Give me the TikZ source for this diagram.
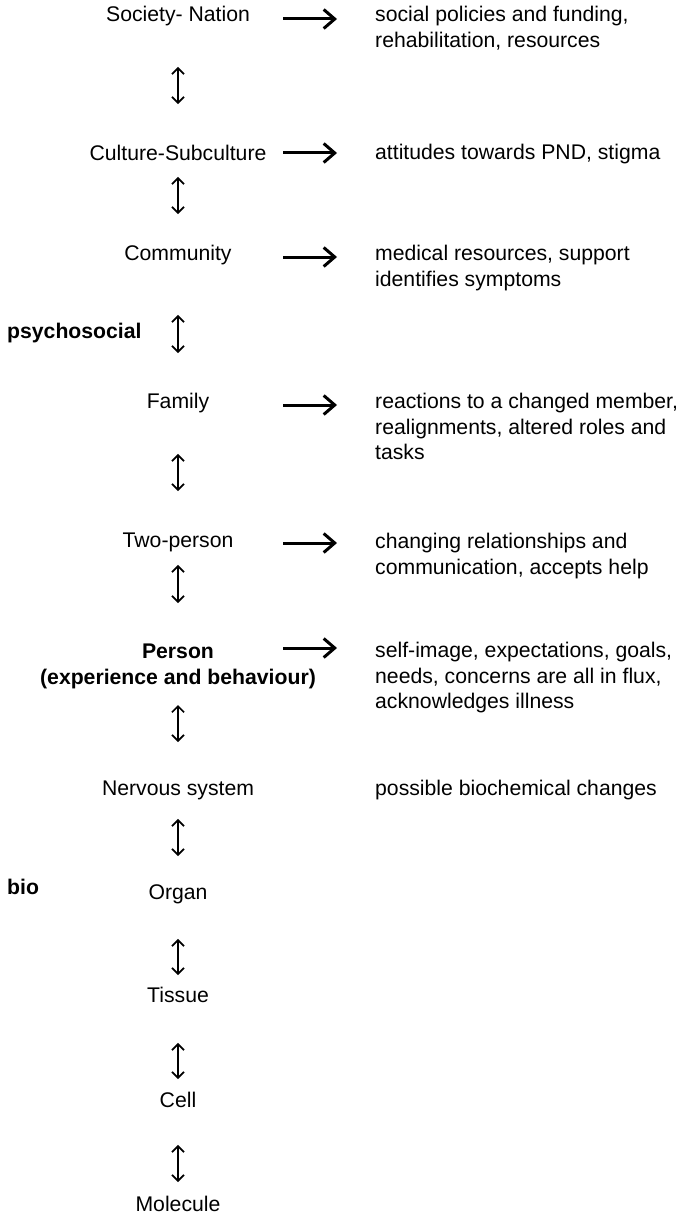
\documentclass[tikz,border=0pt]{standalone}
\usepackage{fontspec}
\setmainfont{Liberation Sans}
\usetikzlibrary{arrows.meta,calc}

\begin{document}
\begin{tikzpicture}[x=1pt,y=-1pt,
    lbl/.style={inner sep=0pt, text height=15pt, text depth=4.5pt},
    desc/.style={anchor=north west, inner sep=0pt, align=left},
    side/.style={anchor=west, inner sep=0pt, font=\bfseries},
    rarr/.style={line width=3pt, -{Straight Barb[length=11pt,width=19pt]}},
    updown/.style 2 args={line width=1.7pt,
      {Straight Barb[length=6pt,width=12pt]}-{Straight Barb[length=6pt,width=12pt]},
      shorten <=#1pt, shorten >=#2pt}]
  \fontsize{21.2}{25.7}\selectfont
  \useasboundingbox (0,0) rectangle (681,1217);

  % Levels
  \node[lbl] (soc) at (178,16) {Society- Nation};
  \node[lbl] (cul) at (178,155) {Culture-Subculture};
  \node[lbl] (com) at (178,255) {Community};
  \node[lbl] (fam) at (178,403) {Family};
  \node[lbl] (two) at (178,542) {Two-person};
  \node[anchor=north, inner sep=0pt, align=center, font=\bfseries] (per) at (178,644)
    {Person\\(experience and behaviour)};
  \node[lbl] (ner) at (178,790) {Nervous system};
  \node[lbl] (org) at (178,894) {Organ};
  \node[lbl] (tis) at (178,997) {Tissue};
  \node[lbl] (cel) at (178,1102) {Cell};
  \node[lbl] (mol) at (178,1206) {Molecule};

  % Side labels
  \node[side] (psy) at (7,333) {psychosocial};
  \node[side] (bio) at (7,887) {bio};

  % Effects
  \node[desc] (socR) at (375,6) {social policies and funding,\\rehabilitation, resources};
  \node[desc] (culR) at (375,144) {attitudes towards PND, stigma};
  \node[desc] (comR) at (375,245) {medical resources, support\\identifies symptoms};
  \node[desc] (famR) at (375,393) {reactions to a changed member,\\realignments, altered roles and\\tasks};
  \node[desc] (twoR) at (375,533) {changing relationships and\\communication, accepts help};
  \node[desc] (perR) at (375,642) {self-image, expectations, goals,\\needs, concerns are all in flux,\\acknowledges illness};
  \node[desc] (nerR) at (375,780) {possible biochemical changes};

  % Arrows between levels
  \draw[updown={41}{41}] (soc) -- (cul);
  \draw[updown={12}{31}] (cul) -- (com);
  \draw[updown={50}{40}] (com) -- (fam);
  \draw[updown={41}{41}] (fam) -- (two);
  \draw[updown={13}{41}] (two) -- (per);
  \draw[updown={16}{38}] (per) -- (ner);
  \draw[updown={19}{28}] (ner) -- (org);
  \draw[updown={35}{12}] (org) -- (tis);
  \draw[updown={36}{13}] (tis) -- (cel);
  \draw[updown={33}{14}] (cel) -- (mol);

  % Arrows to effects
  \coordinate (ax1) at (283,0);
  \coordinate (ax2) at (337,0);
  \draw[rarr] ($(soc -| ax1)+(0,3)$) -- ($(soc -| ax2)+(0,3)$);
  \draw[rarr] ($(cul -| ax1)+(0,-2)$) -- ($(cul -| ax2)+(0,-2)$);
  \draw[rarr] ($(com -| ax1)+(0,2)$) -- ($(com -| ax2)+(0,2)$);
  \draw[rarr] ($(fam -| ax1)+(0,2)$) -- ($(fam -| ax2)+(0,2)$);
  \draw[rarr] ($(two -| ax1)+(0,1)$) -- ($(two -| ax2)+(0,1)$);
  \draw[rarr] ($(per.north -| ax1)+(0,4)$) -- ($(per.north -| ax2)+(0,4)$);
\end{tikzpicture}
\end{document}
